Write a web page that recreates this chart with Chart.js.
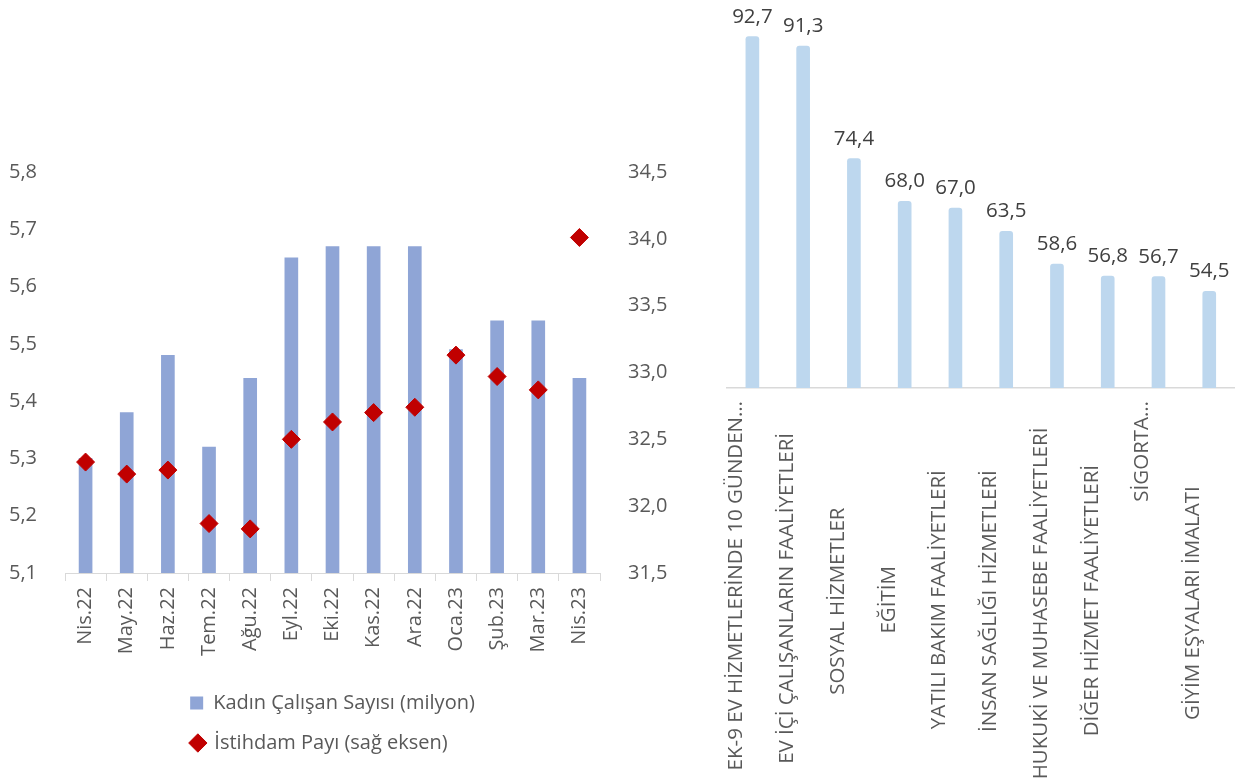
<!DOCTYPE html>
<html>
<head>
<meta charset="utf-8">
<script src="https://cdn.jsdelivr.net/npm/chart.js@4.4.0/dist/chart.umd.min.js"></script>
<style>
  body { margin: 0; background: #fff; width: 1239px; height: 783px; overflow: hidden; position: relative; }
  #sol { position: absolute; left: 0; top: 0; }
  #sag { position: absolute; left: 690px; top: 0; }
</style>
</head>
<body>
<canvas id="sol" width="680" height="783"></canvas>
<canvas id="sag" width="549" height="783"></canvas>
<script>
// sol grafik verileri
const aylar = ['Nis.22', 'May.22', 'Haz.22', 'Tem.22', 'Ağu.22', 'Eyl.22', 'Eki.22', 'Kas.22', 'Ara.22', 'Oca.23', 'Şub.23', 'Mar.23', 'Nis.23'];
const kadinCalisan = [5.30, 5.38, 5.48, 5.32, 5.44, 5.65, 5.67, 5.67, 5.67, 5.49, 5.54, 5.54, 5.44];
const istihdamPayi = [32.33, 32.24, 32.27, 31.87, 31.83, 32.50, 32.63, 32.70, 32.74, 33.13, 32.97, 32.87, 34.01];

// sag grafik verileri
const sektorler = [
  'EK-9 EV HİZMETLERİNDE 10 GÜNDEN…',
  'EV İÇİ ÇALIŞANLARIN FAALİYETLERİ',
  'SOSYAL HİZMETLER',
  'EĞİTİM',
  'YATILI BAKIM FAALİYETLERİ',
  'İNSAN SAĞLIĞI HİZMETLERİ',
  'HUKUKİ VE MUHASEBE FAALİYETLERİ',
  'DİĞER HİZMET FAALİYETLERİ',
  'SİGORTA…',
  'GİYİM EŞYALARI İMALATI'
];
const kadinOrani = [92.7, 91.3, 74.4, 68.0, 67.0, 63.5, 58.6, 56.8, 56.7, 54.5];

const yazi = { family: '"Open Sans", sans-serif', size: 20 };
const sektorYazi = { family: '"Open Sans", sans-serif', size: 20.5 };
const griYazi = '#595959';
const virgul = v => Number(v).toFixed(1).replace('.', ',');

const olcu = document.createElement('canvas').getContext('2d');

// lejant satirlarini ayni genislige getir (soldan hizali gorunsun)
function lejantEtiketleri(chart) {
  const items = Chart.defaults.plugins.legend.labels.generateLabels(chart);
  olcu.font = '20px "Open Sans", sans-serif';
  const enGenis = Math.max(...items.map(it => olcu.measureText(it.text).width));
  const bosluk = olcu.measureText(' ').width;
  items.forEach(it => {
    const n = Math.round((enGenis - olcu.measureText(it.text).width) / bosluk);
    it.text = it.text + ' '.repeat(Math.max(0, n));
  });
  return items;
}

new Chart(document.getElementById('sol'), {
  type: 'bar',
  data: {
    labels: aylar,
    datasets: [
      {
        label: 'Kadın Çalışan Sayısı (milyon)',
        data: kadinCalisan,
        backgroundColor: '#8FA5D6',
        barThickness: 13,
        pointStyle: 'rect',
        yAxisID: 'y',
        order: 1
      },
      {
        type: 'line',
        label: 'İstihdam Payı (sağ eksen)',
        data: istihdamPayi,
        showLine: false,
        pointStyle: 'rectRot',
        pointRadius: 9,
        pointHoverRadius: 9,
        backgroundColor: '#C00000',
        borderColor: '#C00000',
        yAxisID: 'y1',
        order: 0
      }
    ]
  },
  options: {
    responsive: false,
    animation: false,
    layout: { padding: { top: 172, bottom: 20 } },
    plugins: {
      tooltip: { enabled: false },
      legend: {
        position: 'bottom',
        fullSize: false,
        labels: {
          usePointStyle: true,
          boxWidth: 13,
          boxHeight: 13,
          padding: 20,
          color: griYazi,
          font: yazi,
          generateLabels: lejantEtiketleri,
          sort: (a, b) => a.datasetIndex - b.datasetIndex
        }
      }
    },
    scales: {
      x: {
        grid: { offset: true, drawOnChartArea: false, tickLength: 8, color: '#D9D9D9' },
        border: { color: '#D9D9D9' },
        ticks: { minRotation: 90, maxRotation: 90, autoSkip: false, padding: 6, color: griYazi, font: yazi },
        afterFit: s => { s.height = 100; }
      },
      y: {
        position: 'left',
        min: 5.1,
        max: 5.8,
        grid: { display: false },
        border: { display: false },
        ticks: { stepSize: 0.1, padding: 20, color: griYazi, font: yazi, callback: virgul },
        afterFit: s => { s.width = 65; }
      },
      y1: {
        position: 'right',
        min: 31.5,
        max: 34.5,
        grid: { display: false },
        border: { display: false },
        ticks: { stepSize: 0.5, padding: 20, color: griYazi, font: yazi, callback: virgul },
        afterFit: s => { s.width = 80; }
      }
    }
  }
});

// uzun olmayan etiketleri eksen alaninda ortalamak icin sona bosluk ekle
function ortala(metin) {
  if (metin.endsWith('…')) return metin;
  olcu.font = '20.5px "Open Sans", sans-serif';
  const w = olcu.measureText(metin).width;
  const bosluk = olcu.measureText(' ').width;
  const n = Math.max(0, Math.round((200 - w / 2) / bosluk));
  return metin + ' '.repeat(n);
}

const degerEtiketi = {
  id: 'degerEtiketi',
  afterDatasetsDraw(chart) {
    const ctx = chart.ctx;
    ctx.save();
    ctx.font = '20.5px "Open Sans", sans-serif';
    ctx.fillStyle = '#404040';
    ctx.textAlign = 'center';
    ctx.textBaseline = 'alphabetic';
    chart.getDatasetMeta(0).data.forEach((bar, i) => {
      ctx.fillText(virgul(chart.data.datasets[0].data[i]), bar.x, bar.y - 14);
    });
    ctx.restore();
  }
};

new Chart(document.getElementById('sag'), {
  type: 'bar',
  data: {
    labels: sektorler,
    datasets: [{
      data: kadinOrani,
      backgroundColor: '#BDD7EE',
      barThickness: 13,
      borderRadius: 3
    }]
  },
  options: {
    responsive: false,
    animation: false,
    layout: { padding: { top: 8, left: 37, right: 3 } },
    plugins: { legend: { display: false }, tooltip: { enabled: false } },
    scales: {
      x: {
        grid: { display: false },
        border: { color: '#D9D9D9', width: 1.5 },
        ticks: {
          minRotation: 90, maxRotation: 90, autoSkip: false,
          labelOffset: -16, padding: 5, color: griYazi, font: sektorYazi,
          callback: (v, i) => ortala(sektorler[i])
        },
        afterFit: s => { s.height = 395; }
      },
      y: { display: false, min: 40, max: 97 }
    }
  },
  plugins: [degerEtiketi]
});
</script>
</body>
</html>
